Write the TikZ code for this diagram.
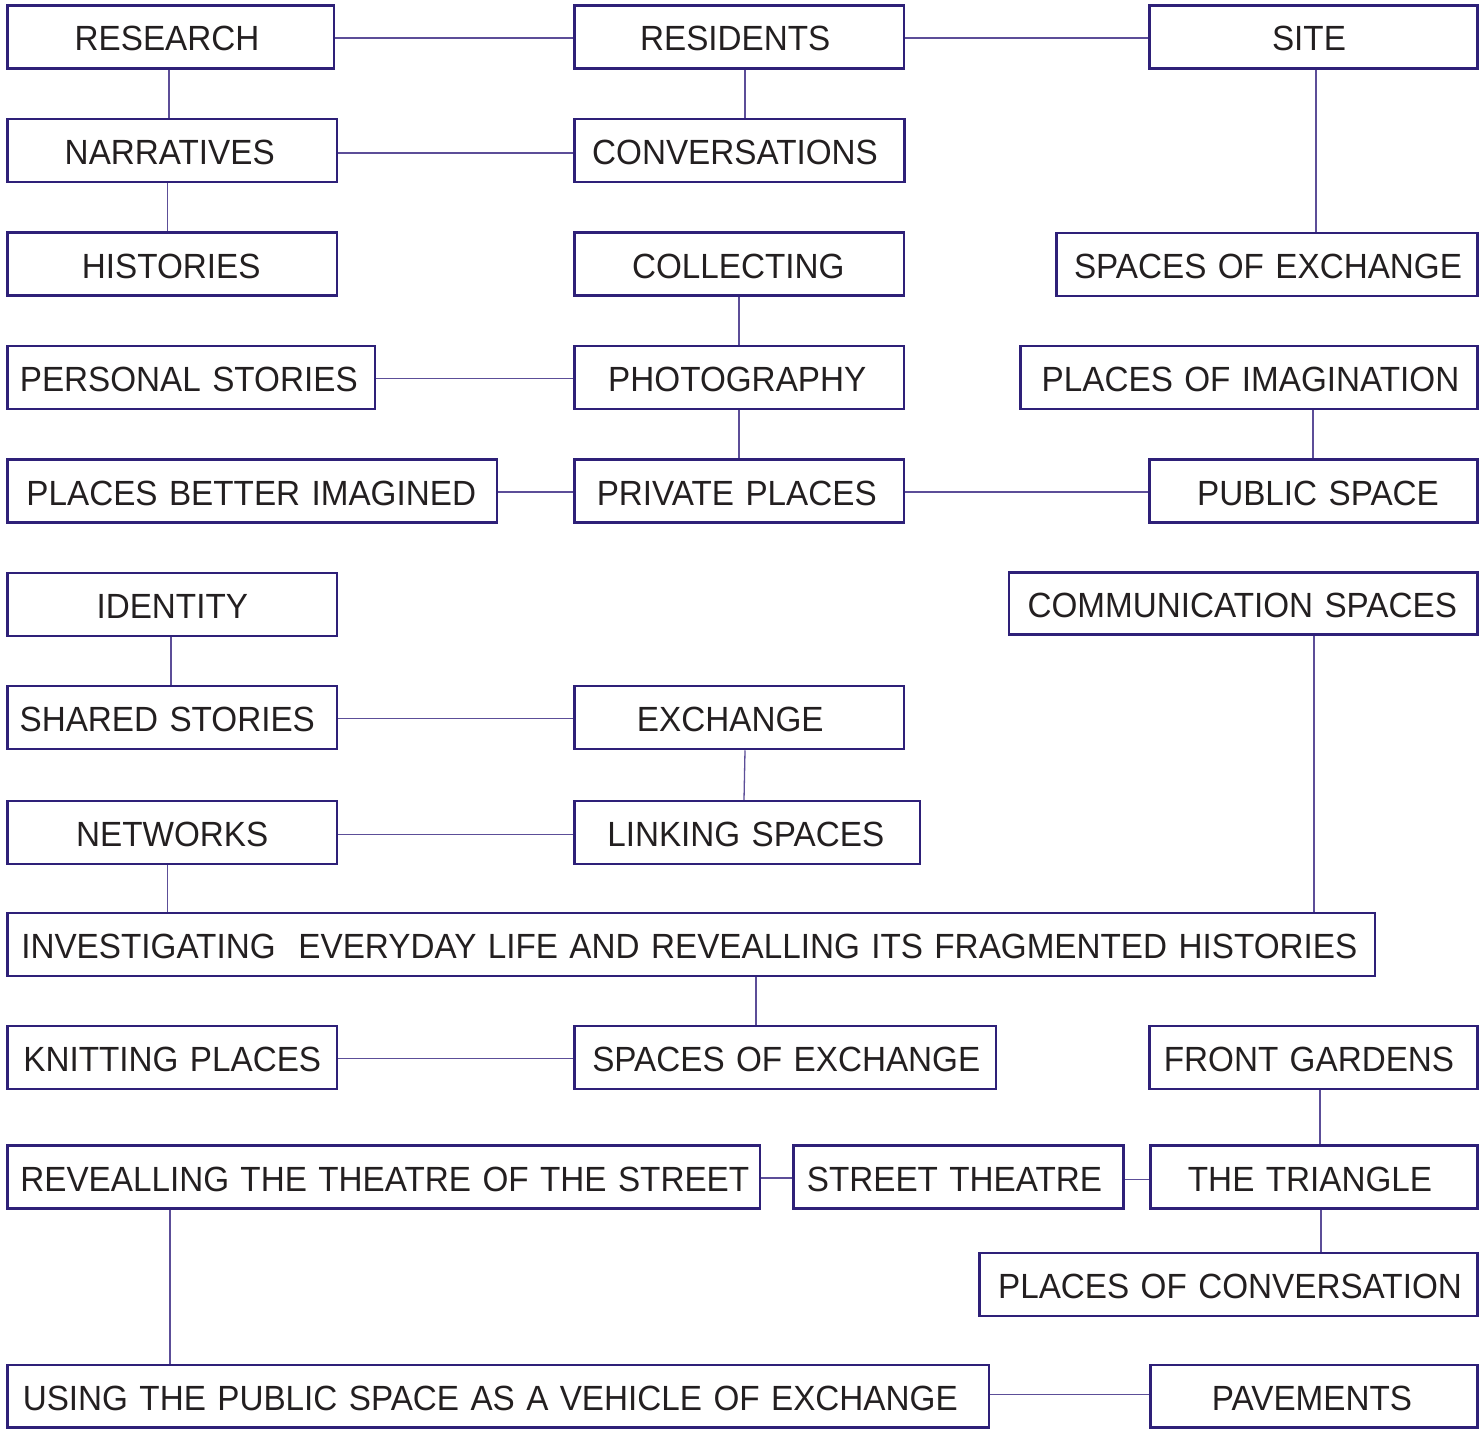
\documentclass[tikz,border=0pt]{standalone}
\usepackage{fontspec}
\setmainfont{Liberation Sans}[FakeStretch=0.95]
\definecolor{boxc}{RGB}{46,32,120}
\definecolor{connc}{RGB}{92,78,152}
\definecolor{txtc}{RGB}{35,31,32}
\tikzset{
  box/.style={draw=boxc, line width=2.5pt, inner sep=0pt, fill=white},
  txt/.style={inner sep=0pt, anchor=base, text=txtc, font=\fontsize{35}{40}\selectfont},
  conn/.style={draw=connc, line width=1.3pt}
}
\newcommand\wordsp{\spaceskip=11.4pt plus 1pt\relax}
\newcommand\bx[7]{%
  \node[box, minimum width={#4-#2}, minimum height={#5-#3}] (#1) at ({(#2+#4)/2},{(#3+#5)/2}) {};
  \node[txt] (#1-t) at ([xshift=#6pt, yshift=-14pt]#1.center) {\wordsp #7};}
\begin{document}
\begin{tikzpicture}[x=1pt, y=-1pt]
\useasboundingbox (0,0) rectangle (1479,1429);
\fill[white] (0,0) rectangle (1479,1429);
\bx{research}{7.5}{5.5}{334}{68.5}{-3.7}{RESEARCH}
\bx{residents}{574.5}{5.5}{904}{68.5}{-4}{RESIDENTS}
\bx{site}{1149.5}{5.5}{1477.5}{68.5}{-4.5}{SITE}
\bx{narratives}{7.5}{119}{337}{182}{-2.5}{NARRATIVES}
\bx{conversations}{574.5}{119}{904.5}{182}{-4.5}{CONVERSATIONS}
\bx{histories}{7.5}{232.5}{337}{295.5}{-1}{HISTORIES}
\bx{collecting}{574.5}{232.5}{904}{295.5}{-1}{COLLECTING}
\bx{soea}{1056.5}{233}{1477.5}{296}{1}{SPACES OF EXCHANGE}
\bx{personal}{7.5}{346}{375}{409}{-2.5}{PERSONAL STORIES}
\bx{photography}{574.5}{346}{904}{409}{-2}{PHOTOGRAPHY}
\bx{imagination}{1020.5}{346}{1477.5}{409}{1.5}{PLACES OF IMAGINATION}
\bx{better}{7.5}{459.5}{497}{522.5}{-1}{PLACES BETTER IMAGINED}
\bx{private}{574.5}{459.5}{904}{522.5}{-2.5}{PRIVATE PLACES}
\bx{public}{1149.5}{459.5}{1477.5}{522.5}{4.5}{PUBLIC SPACE}
\bx{identity}{7.5}{573}{337}{636}{0}{IDENTITY}
\bx{communication}{1009}{572.5}{1477.5}{634.5}{-1}{COMMUNICATION SPACES}
\bx{shared}{7.5}{686}{337}{749}{-5}{SHARED STORIES}
\bx{exchange}{574.5}{686}{904}{749}{-9}{EXCHANGE}
\bx{networks}{7.5}{801}{337}{864}{0}{NETWORKS}
\bx{linking}{574.5}{801}{920}{864}{-1.5}{LINKING SPACES}
\bx{investigating}{7.5}{913}{1375}{976}{-2}{INVESTIGATING\ \ EVERYDAY LIFE AND REVEALLING ITS FRAGMENTED HISTORIES}
\bx{knitting}{7.5}{1026}{337}{1089}{0}{KNITTING PLACES}
\bx{soeb}{574.5}{1026}{996}{1089}{1}{SPACES OF EXCHANGE}
\bx{front}{1149.5}{1026}{1477.5}{1089}{-4.5}{FRONT GARDENS}
\bx{revealling}{7.5}{1145.5}{760}{1208.5}{1}{REVEALLING THE THEATRE OF THE STREET}
\bx{street}{793.5}{1145.5}{1123.5}{1208.5}{-4}{STREET THEATRE}
\bx{triangle}{1150.5}{1145.5}{1477.5}{1208.5}{-4}{THE TRIANGLE}
\bx{conversation}{979.5}{1253}{1477.5}{1316}{1.5}{PLACES OF CONVERSATION}
\bx{using}{7.5}{1365}{989}{1427.5}{-8}{USING THE PUBLIC SPACE AS A VEHICLE OF EXCHANGE}
\bx{pavements}{1150.5}{1365}{1477.5}{1427.5}{-2}{PAVEMENTS}
% horizontal connectors
\draw[conn] (research.east |- 0,38) -- (residents.west |- 0,38);
\draw[conn] (residents.east |- 0,38) -- (site.west |- 0,38);
\draw[conn] (narratives.east |- 0,153) -- (conversations.west |- 0,153);
\draw[conn] (personal.east |- 0,378.5) -- (photography.west |- 0,378.5);
\draw[conn] (better.east |- 0,492) -- (private.west |- 0,492);
\draw[conn] (private.east |- 0,492) -- (public.west |- 0,492);
\draw[conn] (shared.east |- 0,718.5) -- (exchange.west |- 0,718.5);
\draw[conn] (networks.east |- 0,834.5) -- (linking.west |- 0,834.5);
\draw[conn] (knitting.east |- 0,1058.5) -- (soeb.west |- 0,1058.5);
\draw[conn] (revealling.east |- 0,1178) -- (street.west |- 0,1178);
\draw[conn] (street.east |- 0,1179.5) -- (triangle.west |- 0,1179.5);
\draw[conn] (using.east |- 0,1394.5) -- (pavements.west |- 0,1394.5);
% vertical connectors
\draw[conn] (research.south -| 169,0) -- (narratives.north -| 169,0);
\draw[conn] (narratives.south -| 167.5,0) -- (histories.north -| 167.5,0);
\draw[conn] (residents.south -| 745,0) -- (conversations.north -| 745,0);
\draw[conn] (site.south -| 1316,0) -- (soea.north -| 1316,0);
\draw[conn] (collecting.south -| 739,0) -- (photography.north -| 739,0);
\draw[conn] (photography.south -| 739,0) -- (private.north -| 739,0);
\draw[conn] (imagination.south -| 1313,0) -- (public.north -| 1313,0);
\draw[conn] (identity.south -| 171,0) -- (shared.north -| 171,0);
\draw[conn] (exchange.south -| 745,0) -- (linking.north -| 744,0);
\draw[conn] (networks.south -| 167.5,0) -- (investigating.north -| 167.5,0);
\draw[conn] (communication.south -| 1314,0) -- (investigating.north -| 1314,0);
\draw[conn] (investigating.south -| 756,0) -- (soeb.north -| 756,0);
\draw[conn] (front.south -| 1320,0) -- (triangle.north -| 1320,0);
\draw[conn] (triangle.south -| 1321,0) -- (conversation.north -| 1321,0);
\draw[conn] (revealling.south -| 170,0) -- (using.north -| 170,0);
\end{tikzpicture}
\end{document}
